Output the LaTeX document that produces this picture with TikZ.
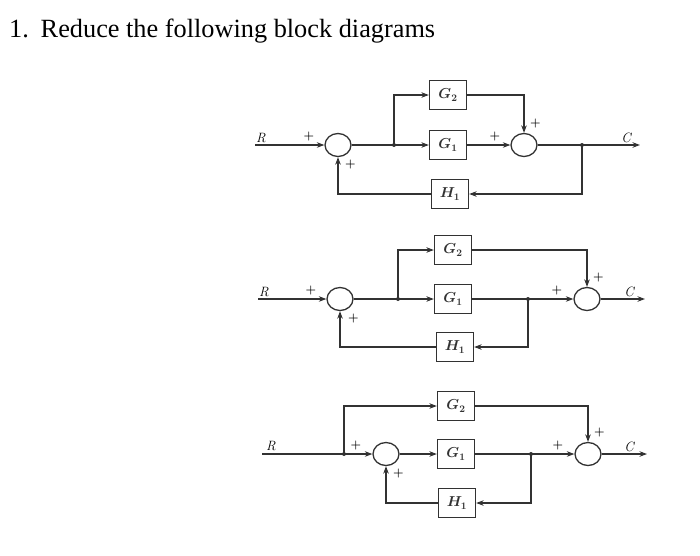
\documentclass[tikz,border=0pt]{standalone}
\usepackage{tikz}
\usepackage{fontspec}
\usetikzlibrary{positioning,arrows.meta,shapes.geometric}
\newfontfamily\titlefont{Liberation Serif}
\definecolor{InkGray}{RGB}{50,50,50}

\tikzset{
  blockbox/.style={draw=InkGray, line width=1.3pt, fill=white, minimum width=37pt,
                   minimum height=29pt, inner sep=0pt, text=InkGray,
                   font=\fontsize{14}{16}\selectfont\boldmath},
  sumcircle/.style={draw=InkGray, line width=1.3pt, ellipse, minimum width=26pt,
                    minimum height=23pt, inner sep=0pt},
  sig/.style={-{Stealth[length=7.5pt,width=5.5pt]}, InkGray, line width=1.2pt},
  wire/.style={InkGray, line width=1.2pt},
  sgn/.style={font=\fontsize{13}{14}\selectfont\boldmath, inner sep=1pt, text=black},
  io/.style={font=\fontsize{13.5}{14}\selectfont\itshape, inner sep=1pt, text=black}
}

\begin{document}
\begin{tikzpicture}[x=1pt, y=-1pt]
  \useasboundingbox (0,0) rectangle (700,555);

  % title
  \node[anchor=base west, inner sep=0pt, font=\titlefont\fontsize{26.3}{30}\selectfont] (title)
    at (9,37) {1.\hspace{0.45em}Reduce the following block diagrams};

  % first diagram
  \node[sumcircle] (sA1) at (338,145) {};
  \node[blockbox] (gA2) at (448,95) {$G_2$};
  \node[blockbox] (gA1) at (448,145) {$G_1$};
  \node[blockbox] (hA1) at (450,194) {$H_1$};
  \node[sumcircle] (sA2) at (524,145) {};
  \coordinate (rA) at (255,145);
  \coordinate (jA1) at (394,145);
  \coordinate (jA2) at (582,145);
  \coordinate (cA) at (640,145);
  \node[io, above right=1pt and 0pt of rA] (lrA) {R};
  \node[io, above left=1pt and 8pt of cA] (lcA) {C};
  \node[sgn, above left=3pt and 9pt of sA1.west] (pA1) {$+$};
  \node[sgn, below right=2pt and 6pt of sA1.south] (pA2) {$+$};
  \node[sgn, above left=3pt and 9pt of sA2.west] (pA3) {$+$};
  \node[sgn, above right=4pt and 5pt of sA2.north] (pA4) {$+$};
  \draw[sig] (rA) -- (sA1.west);
  \draw[wire] (sA1.east) -- (jA1);
  \draw[sig] (jA1) -- (gA1.west);
  \draw[sig] (jA1) |- (gA2.west);
  \draw[sig] (gA1.east) -- (sA2.west);
  \draw[sig] (gA2.east) -| (sA2.north);
  \draw[wire] (sA2.east) -- (jA2);
  \draw[sig] (jA2) -- (cA);
  \draw[sig] (jA2) |- (hA1.east);
  \draw[sig] (hA1.west) -| (sA1.south);
  \fill[InkGray] (jA1) circle (2) (jA2) circle (2);

  % second diagram
  \node[sumcircle] (sB1) at (340,299) {};
  \node[blockbox] (gB2) at (453,250) {$G_2$};
  \node[blockbox] (gB1) at (453,299) {$G_1$};
  \node[blockbox] (hB1) at (455,347) {$H_1$};
  \node[sumcircle] (sB2) at (587,299) {};
  \coordinate (rB) at (258,299);
  \coordinate (jB1) at (398,299);
  \coordinate (jB2) at (528,299);
  \coordinate (cB) at (645,299);
  \node[io, above right=1pt and 0pt of rB] (lrB) {R};
  \node[io, above left=1pt and 10pt of cB] (lcB) {C};
  \node[sgn, above left=3pt and 9pt of sB1.west] (pB1) {$+$};
  \node[sgn, below right=2pt and 7pt of sB1.south] (pB2) {$+$};
  \node[sgn, above left=3pt and 10pt of sB2.west] (pB3) {$+$};
  \node[sgn, above right=4pt and 5pt of sB2.north] (pB4) {$+$};
  \draw[sig] (rB) -- (sB1.west);
  \draw[wire] (sB1.east) -- (jB1);
  \draw[sig] (jB1) -- (gB1.west);
  \draw[sig] (jB1) |- (gB2.west);
  \draw[wire] (gB1.east) -- (jB2);
  \draw[sig] (jB2) -- (sB2.west);
  \draw[sig] (gB2.east) -| (sB2.north);
  \draw[sig] (sB2.east) -- (cB);
  \draw[sig] (jB2) |- (hB1.east);
  \draw[sig] (hB1.west) -| (sB1.south);
  \fill[InkGray] (jB1) circle (2) (jB2) circle (2);

  % third diagram
  \node[sumcircle] (sC1) at (386,454) {};
  \node[blockbox] (gC2) at (456,406) {$G_2$};
  \node[blockbox] (gC1) at (456,454) {$G_1$};
  \node[blockbox] (hC1) at (457,503) {$H_1$};
  \node[sumcircle] (sC2) at (588,454) {};
  \coordinate (rC) at (262,454);
  \coordinate (jC1) at (344,454);
  \coordinate (jC2) at (531,454);
  \coordinate (cC) at (647,454);
  \node[io, above right=2pt and 3pt of rC] (lrC) {R};
  \node[io, above left=1pt and 12pt of cC] (lcC) {C};
  \node[sgn, above left=3pt and 10pt of sC1.west] (pC1) {$+$};
  \node[sgn, below right=2pt and 6pt of sC1.south] (pC2) {$+$};
  \node[sgn, above left=3pt and 10pt of sC2.west] (pC3) {$+$};
  \node[sgn, above right=4pt and 5pt of sC2.north] (pC4) {$+$};
  \draw[wire] (rC) -- (jC1);
  \draw[sig] (jC1) -- (sC1.west);
  \draw[sig] (jC1) |- (gC2.west);
  \draw[sig] (sC1.east) -- (gC1.west);
  \draw[wire] (gC1.east) -- (jC2);
  \draw[sig] (jC2) -- (sC2.west);
  \draw[sig] (gC2.east) -| (sC2.north);
  \draw[sig] (sC2.east) -- (cC);
  \draw[sig] (jC2) |- (hC1.east);
  \draw[sig] (hC1.west) -| (sC1.south);
  \fill[InkGray] (jC1) circle (2) (jC2) circle (2);
\end{tikzpicture}
\end{document}
